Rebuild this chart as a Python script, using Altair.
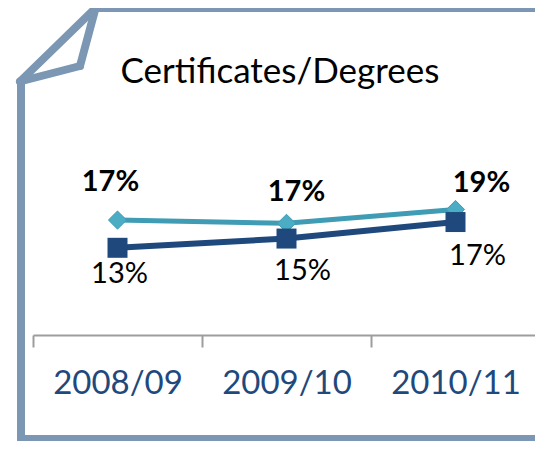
import altair as alt
import pandas as pd

# ---- data ----
years = ["2008/09", "2009/10", "2010/11"]
upper_values = [17.4, 16.9, 19.0]   # teal diamonds, bold labels (17%, 17%, 19%)
lower_values = [13.2, 14.6, 17.1]   # navy squares (13%, 15%, 17%)
chart_title = "Certificates/Degrees"

# ---- layout / style constants ----
W, H = 527, 327          # view; whole svg is 527 x 433 so the page never overflows
FONT = "Lato"
TEAL_LINE, TEAL_MARK = "#3f9cb4", "#4bacc6"
NAVY = "#1f497d"
FRAME = "#7b97b3"
AXIS_GREY = "#9d9d9d"
upper_nudge = [(-7, -38), (10, -31), (26, -26)]
lower_nudge = [(2, 26), (16, 32), (22, 34)]

upper_df = pd.DataFrame({"year": years, "value": upper_values})
lower_df = pd.DataFrame({"year": years, "value": lower_values})

xscale = alt.Scale(type="band", domain=years, range=[25, 532], paddingInner=0, paddingOuter=0)
yscale = alt.Scale(domain=[0, 49.5])

x_axis = alt.Axis(
    title=None, labelFont=FONT, labelFontSize=33, labelColor=NAVY, labelAngle=0,
    labelBaseline="middle", labelPadding=36, tickSize=12, tickColor=AXIS_GREY,
    tickWidth=2, domainColor=AXIS_GREY, domainWidth=2, tickBand="extent", grid=False,
)

X = alt.X("year:N", scale=xscale, axis=x_axis)
Y = alt.Y("value:Q", scale=yscale, axis=None)

one = pd.DataFrame({"k": [0]})

def seg(x1, y1, x2, y2, w=8):
    return alt.Chart(one).mark_rule(color=FRAME, strokeWidth=w, strokeCap="round").encode(
        x=alt.value(x1), y=alt.value(y1), x2=alt.value(x2), y2=alt.value(y2)
    )

frame = [
    seg(87.6, 0, 540, 0),
    seg(87.6, 0, 12, 73.5),
    seg(87.6, 0, 72, 58),
    seg(72, 58, 12, 73.5),
    seg(13, 73, 13, 431),
    seg(13, 431, 540, 431),
]

upper_line = alt.Chart(upper_df).mark_line(color=TEAL_LINE, strokeWidth=5).encode(x=X, y=Y)
upper_pts = alt.Chart(upper_df).mark_point(
    shape="diamond", filled=True, size=330, color=TEAL_MARK, opacity=1,
    stroke="#3f9cb4", strokeWidth=1
).encode(x=X, y=Y)
lower_line = alt.Chart(lower_df).mark_line(color=NAVY, strokeWidth=6).encode(x=X, y=Y)
lower_pts = alt.Chart(lower_df).mark_point(
    shape="square", filled=True, size=400, color=NAVY, opacity=1
).encode(x=X, y=Y)

labels = []
for i, yr in enumerate(years):
    dx, dy = upper_nudge[i]
    labels.append(
        alt.Chart(upper_df).transform_filter(alt.datum.year == yr)
        .transform_calculate(lbl="format(datum.value, '.0f') + '%'")
        .mark_text(font=FONT, fontSize=29, fontWeight="bold", color="black",
                   align="center", baseline="middle", dx=dx, dy=dy)
        .encode(x=X, y=Y, text="lbl:N")
    )
    dx, dy = lower_nudge[i]
    labels.append(
        alt.Chart(lower_df).transform_filter(alt.datum.year == yr)
        .transform_calculate(lbl="format(datum.value, '.0f') + '%'")
        .mark_text(font=FONT, fontSize=29, color="black",
                   align="center", baseline="middle", dx=dx, dy=dy)
        .encode(x=X, y=Y, text="lbl:N")
    )

title = alt.Chart(one).mark_text(
    text=chart_title, font=FONT, fontSize=35, color="black", align="center", baseline="alphabetic"
).encode(x=alt.value(272), y=alt.value(75))

chart = alt.layer(
    *frame, upper_line, upper_pts, lower_line, lower_pts, *labels, title
).properties(
    width=W, height=H,
    background="white",
    autosize=alt.AutoSizeParams(type="none"),
    padding={"left": 0, "top": 0, "right": 0, "bottom": 106},
).configure_view(strokeWidth=0, stroke="transparent")

chart.save("out.html", embed_options={"renderer": "svg", "actions": False})
